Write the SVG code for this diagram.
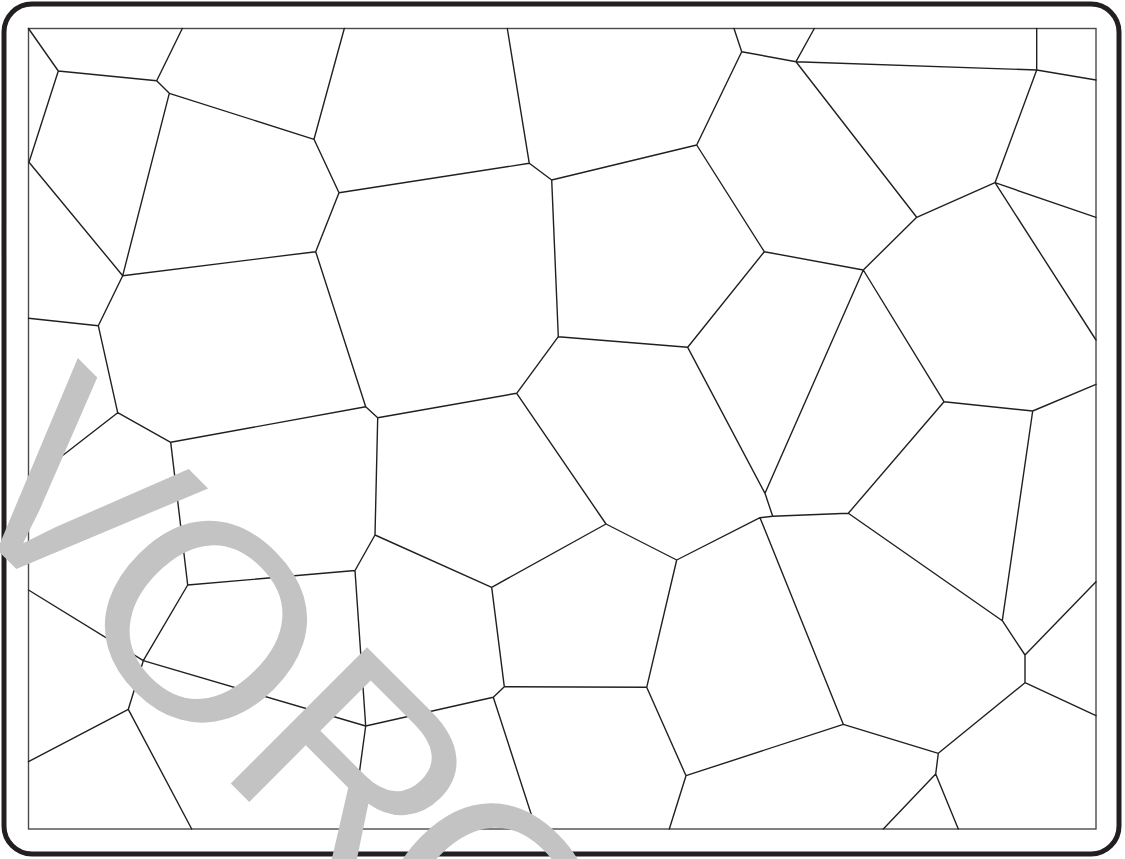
<svg xmlns="http://www.w3.org/2000/svg" width="1125" height="859" viewBox="0 0 1125 859">
<style>
.frame{fill:#fff;stroke:#231f20;stroke-width:5}
.inner{fill:none;stroke:#4a4a4a;stroke-width:1.4}
.cells{fill:none;stroke:#231f20;stroke-width:1.4;stroke-linejoin:round;stroke-linecap:round}
.wm{font-family:"Liberation Sans",Arial,sans-serif;font-size:280px;fill:#c3c3c3}
</style>
<rect width="1125" height="859" fill="#fff"/>
<g id="frame">
<rect class="frame" x="4" y="4" width="1115" height="850" rx="28" ry="28"/>
<rect class="inner" x="28.5" y="28.5" width="1067.5" height="800.5"/>
</g>
<g id="cells">
<path class="cells" d="
M28.5,28.5 L58.3,71 L156.7,80.7 L182.3,28.5
M156.7,80.7 L169.3,93.3 L314,139.3 L344.3,28.5
M314,139.3 L339,192.7 L315.7,251.7 L365.7,406.7 L377.7,417.7 L516.7,393.3
M58.3,71 L29,162.3 L122.7,275.7 L169.3,93.3
M122.7,275.7 L315.7,251.7
M122.7,275.7 L98.3,325.7 L28.5,318.3
M98.3,325.7 L117.7,412.7 L170.7,442.3 L365.7,406.7
M117.7,412.7 L28.5,482
M170.7,442.3 L187.7,585 L355,570.5 L375,535 L377.7,417.7
M355,570.5 L365.7,726 L351.7,829
M187.7,585 L143.3,660.7 L28.5,590
M143.3,660.7 L365.7,726
M143.3,660.7 L128.3,709.3 L28.5,761.7
M128.3,709.3 L191.7,829
M365.7,726 L493.3,697.3 L504.3,686.7 L491.7,587.3 L375,535
M491.7,587.3 L606,524 L676.7,560 L646.7,687.3 L504.3,686.7
M646.7,687.3 L686,775.7 L843.3,724.3
M686,775.7 L669.3,829
M493.3,697.3 L536,829
M507.3,28.5 L529.3,163.3 L339,192.7
M529.3,163.3 L551.7,180 L558.3,336.7 L687.7,347.3
M558.3,336.7 L516.7,393.3 L606,524
M676.7,560 L760,517.7 L843.3,724.3
M551.7,180 L696.7,145 L741.7,51.7 L734,28.5
M741.7,51.7 L796,61.7 L814.3,28.5
M796,61.7 L1036.7,70 L1036.7,28.5
M1036.7,70 L1096,80
M1036.7,70 L995,182.7 L1096,217.3
M995,182.7 L1096,340
M796,61.7 L916.7,217.3 L995,182.7
M916.7,217.3 L863.3,270
M696.7,145 L764.3,251.7 L863.3,270
M764.3,251.7 L687.7,347.3 L765,493.3 L863.3,270
M863.3,270 L944,401.7 L1032.7,411 L1096,384.3
M1032.7,411 L1002.3,620.7
M944,401.7 L848.3,513.3 L772.7,516.3 L765,493.3
M772.7,516.3 L760,517.7
M848.3,513.3 L1002.3,620.7 L1025,655 L1096,581.7
M1025,655 L1025,682.7 L1096,715.7
M1025,682.7 L938.3,753.3 L843.3,724.3
M938.3,753.3 L935.7,774 L883.3,829
M935.7,774 L958.3,829
"/>
</g>
<g id="watermark">
<text class="wm" transform="rotate(45)" x="307 476.6 694.2 876.1" y="390.8">VORO</text>
</g>
</svg>
